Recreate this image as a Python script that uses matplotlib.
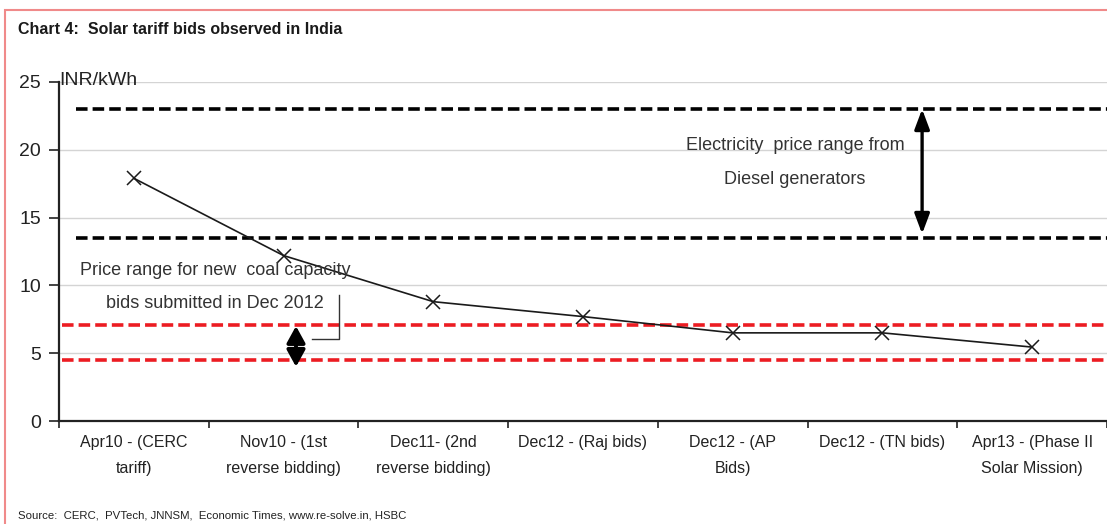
import matplotlib
matplotlib.use("Agg")
import matplotlib.pyplot as plt
from matplotlib.patches import Rectangle

plt.rcParams['font.family'] = ['Liberation Sans', 'DejaVu Sans']

# ---- data ----
categories = ["Apr10 - (CERC\ntariff)", "Nov10 - (1st\nreverse bidding)",
              "Dec11- (2nd\nreverse bidding)", "Dec12 - (Raj bids)",
              "Dec12 - (AP\nBids)", "Dec12 - (TN bids)",
              "Apr13 - (Phase II\nSolar Mission)"]
tariffs = [17.9, 12.2, 8.8, 7.7, 6.5, 6.5, 5.45]
diesel_range = [23.0, 13.5]
coal_range = [7.1, 4.5]
y_ticks = [0, 5, 10, 15, 20, 25]

fig = plt.figure(figsize=(11.07, 5.24), dpi=100)
ax = fig.add_axes([59/1107, 1-421/524, (1107-59)/1107, (421-82)/524])

x = list(range(len(categories)))
ax.set_xlim(-0.5, len(categories)-0.5)
ax.set_ylim(0, 25)

# gridlines
for yv in y_ticks[1:]:
    ax.axhline(yv, color='#d4d4d4', lw=1.0, zorder=0)

# reference dashed lines
for yv in diesel_range:
    ax.axhline(yv, xmin=0.016, xmax=1, color='black', lw=2.6, ls=(0, (3.2, 1.4)), zorder=2)
for yv in coal_range:
    ax.axhline(yv, xmin=0.003, xmax=1, color='#ec1c22', lw=2.6, ls=(0, (3.2, 1.4)), zorder=2)

# tariff line
ax.plot(x, tariffs, color='#1a1a1a', lw=1.2, marker='x', markersize=10,
        markeredgewidth=1.1, zorder=3)

# arrows
ax.annotate('', xy=(5.265, diesel_range[0]), xytext=(5.265, 13.8),
            arrowprops=dict(arrowstyle='<|-|>,head_length=1.2,head_width=0.45',
                            color='black', lw=2.4, shrinkA=0, shrinkB=0), zorder=4)
ax.annotate('', xy=(1.083, 7.0), xytext=(1.083, 4.0),
            arrowprops=dict(arrowstyle='<|-|>,head_length=1.0,head_width=0.55',
                            color='black', lw=2.8, shrinkA=0, shrinkB=0), zorder=4)
# elbow connector
ax.plot([1.37, 1.37, 1.19], [9.3, 6.05, 6.05], color='#333333', lw=1.0, zorder=4)

# annotation texts
txt_kw = dict(ha='center', va='center', fontsize=13, color='#333333', zorder=5)
ax.text(4.416, 20.3, "Electricity  price range from", **txt_kw)
ax.text(4.416, 17.8, "Diesel generators", **txt_kw)
ax.text(0.542, 11.1, "Price range for new  coal capacity", **txt_kw)
ax.text(0.542, 8.7, "bids submitted in Dec 2012", **txt_kw)

ax.text(0.0, 0.99, "INR/kWh", transform=ax.transAxes, ha='left', va='baseline',
        fontsize=14, color='#222222', zorder=5)

# axes styling
for s in ['top', 'right']:
    ax.spines[s].set_visible(False)
for s in ['left', 'bottom']:
    ax.spines[s].set_linewidth(1.6)
    ax.spines[s].set_color('#222222')

ax.set_yticks(y_ticks)
ax.set_yticklabels([str(v) for v in y_ticks], fontsize=14, color='#222222')
ax.tick_params(axis='y', length=7, width=1.2, color='#222222', pad=6)

ax.set_xticks(x)
ax.set_xticklabels(categories, fontsize=11.5, color='#222222', linespacing=1.9)
ax.tick_params(axis='x', which='major', length=0, pad=10)
ax.set_xticks([i - 0.5 for i in range(len(categories)+1)], minor=True)
ax.tick_params(axis='x', which='minor', length=5, width=1.2, color='#222222')

# title and source
fig.text(18/1107, 1-30/524, "Chart 4:  Solar tariff bids observed in India",
         fontsize=11.5, fontweight='bold', color='#1a1a1a', ha='left', va='center')
fig.text(18/1107, 1-515/524, "Source:  CERC,  PVTech, JNNSM,  Economic Times, www.re-solve.in, HSBC",
         fontsize=8.2, color='#222222', ha='left', va='center')

# figure border
fig.patches.append(Rectangle((5/1107, -0.05), 1.2, 1-10/524+0.05, transform=fig.transFigure,
                             fill=False, edgecolor='#f08a8a', lw=1.5, zorder=10))

fig.savefig('out.png', dpi=100)
